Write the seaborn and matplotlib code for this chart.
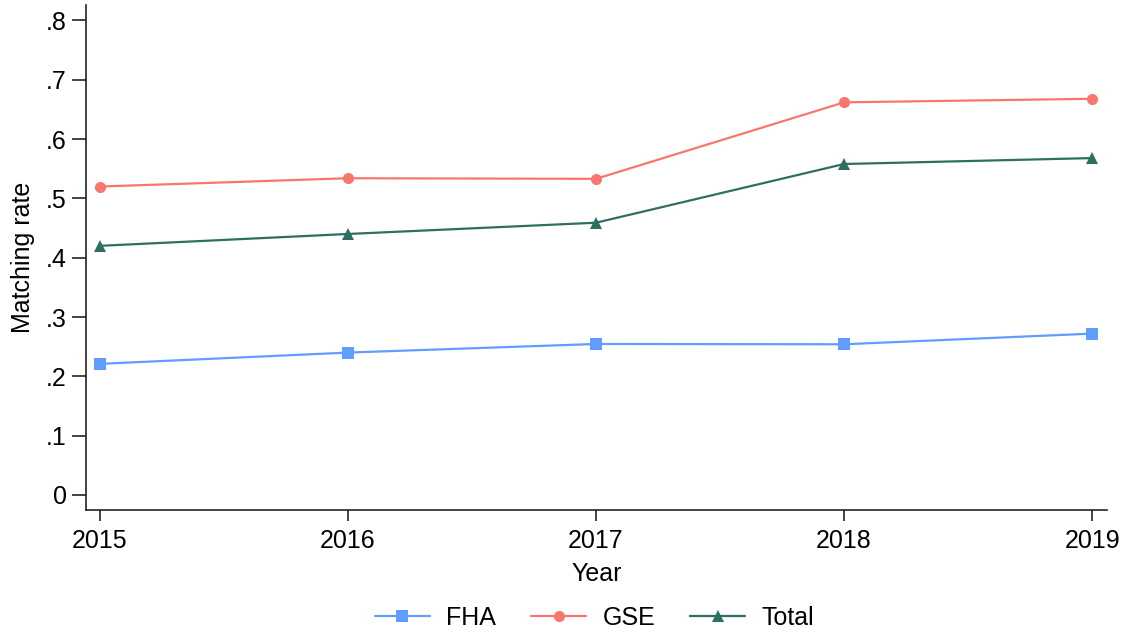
import pandas as pd
import matplotlib.pyplot as plt
import seaborn as sns
from matplotlib.ticker import FuncFormatter

years = [2015, 2016, 2017, 2018, 2019]
fha = [0.221, 0.240, 0.2545, 0.254, 0.272]
gse = [0.520, 0.534, 0.533, 0.662, 0.668]
total = [0.420, 0.440, 0.459, 0.558, 0.568]
series = ["FHA", "GSE", "Total"]
y_ticks = [0, 0.1, 0.2, 0.3, 0.4, 0.5, 0.6, 0.7, 0.8]

df = pd.DataFrame({
    "Year": years * 3,
    "rate": fha + gse + total,
    "group": ["FHA"] * 5 + ["GSE"] * 5 + ["Total"] * 5,
})

sns.set_style("white")
plt.rcParams['font.family'] = ['Liberation Sans', 'DejaVu Sans']
plt.rcParams['text.color'] = 'black'
plt.rcParams['axes.labelcolor'] = 'black'
plt.rcParams['xtick.color'] = 'black'
plt.rcParams['ytick.color'] = 'black'

fig = plt.figure(figsize=(11.27, 6.35), dpi=100)
ax = fig.add_axes([0.0763, 0.197, 0.906, 0.795])

palette = {"FHA": "#619CFF", "GSE": "#F8766D", "Total": "#2E6F63"}
markers = {"FHA": "s", "GSE": "o", "Total": "^"}
sns.lineplot(data=df, x="Year", y="rate", hue="group", style="group",
             hue_order=series, style_order=series, palette=palette,
             markers=markers, dashes=False, markersize=8, markeredgewidth=0,
             linewidth=1.6, ax=ax)

ax.set_xlim(2014.944, 2019.06)
ax.set_ylim(-0.0253, 0.826)
ax.set_xticks(years)
ax.set_yticks(y_ticks)
ax.yaxis.set_major_formatter(FuncFormatter(lambda v, p: "0" if abs(v) < 1e-9 else f"{v:.1f}".lstrip("0")))
ax.tick_params(axis="both", direction="out", length=8, width=1.2, labelsize=18,
               left=True, bottom=True, color="#222222", labelcolor="black")
ax.tick_params(axis="x", pad=6)
ax.tick_params(axis="y", length=10, pad=4)
for s in ["top", "right"]:
    ax.spines[s].set_visible(False)
for s in ["left", "bottom"]:
    ax.spines[s].set_color("#222222")
    ax.spines[s].set_linewidth(1.2)

ax.set_xlabel("Year", fontsize=18, labelpad=6)
ax.set_ylabel("Matching rate", fontsize=18, labelpad=8)

handles, labels = ax.get_legend_handles_labels()
ax.legend(handles, labels, loc="center", bbox_to_anchor=(0.5275, 0.027),
          bbox_transform=fig.transFigure, ncol=3, frameon=False, fontsize=18,
          handlelength=2.2, handletextpad=0.65, columnspacing=1.4)

plt.savefig("out.png", dpi=100)
plt.close()
